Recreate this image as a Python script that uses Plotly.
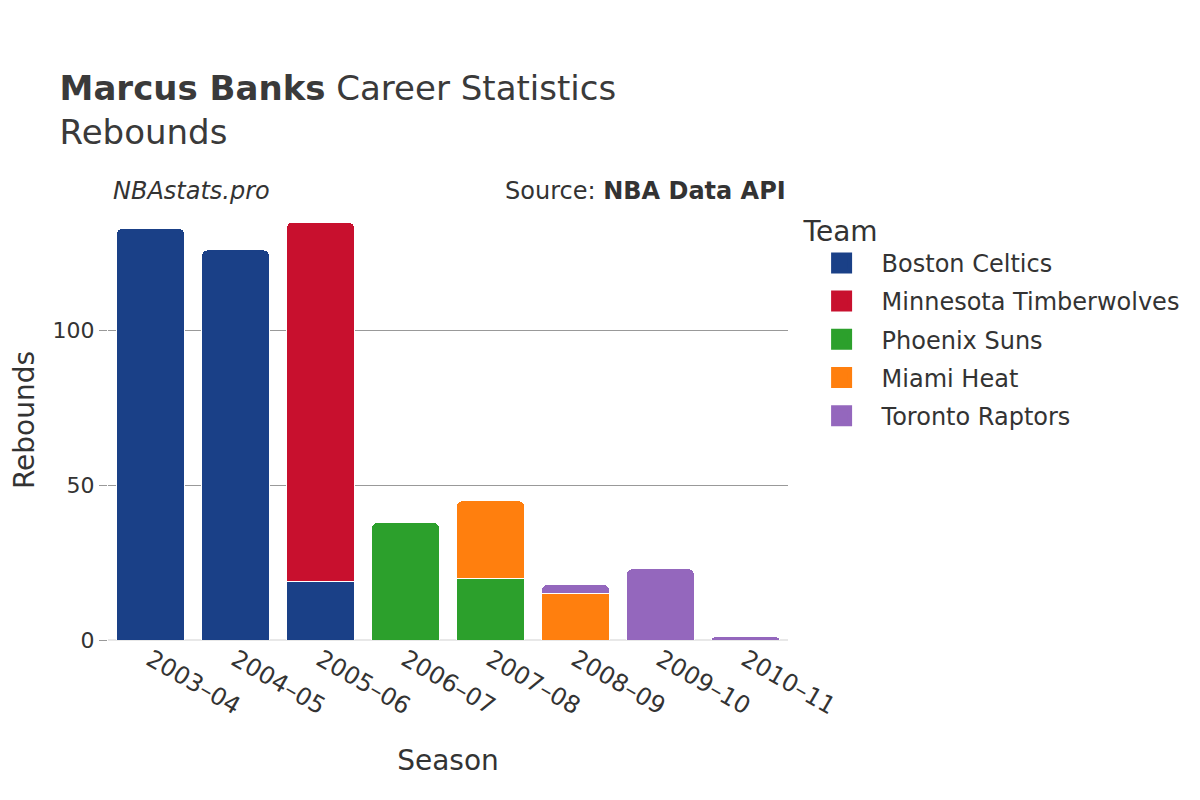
import plotly.graph_objects as go

seasons = ["2003–04", "2004–05", "2005–06", "2006–07", "2007–08", "2008–09", "2009–10", "2010–11"]

teams = ["Boston Celtics", "Minnesota Timberwolves", "Phoenix Suns", "Miami Heat", "Toronto Raptors"]
colors = ["#1a4087", "#c8102e", "#2ca02c", "#ff7f0e", "#9467bd"]

# rebounds per team per season (None = did not play for that team)
boston = [133, 126, 19, None, None, None, None, None]
minnesota = [None, None, 116, None, None, None, None, None]
phoenix = [None, None, None, 38, 20, None, None, None]
miami = [None, None, None, None, 25, 15, None, None]
toronto = [None, None, None, None, None, 3, 23, 1]

values = [boston, minnesota, phoenix, miami, toronto]

fig = go.Figure()
for name, col, vals in zip(teams, colors, values):
    fig.add_bar(x=seasons, y=vals, name=name, legendgroup=name, showlegend=False,
                marker=dict(color=col, line=dict(color="white", width=1)))
    # legend-only entry so the swatch can be bigger than the default bar swatch
    fig.add_scatter(x=[None], y=[None], mode="markers", name=name, legendgroup=name,
                    marker=dict(symbol="square", size=16, color=col, line=dict(color=col, width=5)))

fig.update_layout(
    barmode="stack",
    barcornerradius=6,
    bargap=0.2,
    width=1200, height=800,
    template="plotly_white",
    font=dict(family="DejaVu Sans", size=22, color="#333333"),
    title=dict(text="<b>Marcus Banks</b> Career Statistics<br>Rebounds", x=0.043, y=0.885, xanchor="left", yanchor="top",
               font=dict(size=34, color="#3a3a3a")),
    margin=dict(l=100, r=420, t=192, b=168),
    legend=dict(title=dict(text="Team", font=dict(size=28)), x=1.02, y=0.99, yanchor="top",
                font=dict(size=24), itemwidth=70, itemsizing="trace", traceorder="grouped", tracegroupgap=4),
    xaxis=dict(title=dict(text="Season", font=dict(size=28), standoff=30), tickangle=30, showgrid=False, tickfont=dict(size=24)),
    yaxis=dict(title=dict(text="Rebounds", font=dict(size=28), standoff=32), automargin=False,
               gridcolor="#999999", tickvals=[0, 50, 100],
               ticks="outside", ticklen=8, tickcolor="#999999", tickfont=dict(size=22),
               zeroline=True, zerolinecolor="#e8e8e8", zerolinewidth=2),
    annotations=[
        dict(text="<i>NBAstats.pro</i>", x=0.005, y=0.985, xref="paper", yref="paper", xanchor="left", yanchor="bottom",
             showarrow=False, font=dict(size=24, color="#333333")),
        dict(text="Source: <b>NBA Data API</b>", x=1.0, y=0.985, xref="paper", yref="paper", xanchor="right", yanchor="bottom",
             showarrow=False, font=dict(size=24, color="#333333")),
    ],
)

fig.write_html("out.html")
